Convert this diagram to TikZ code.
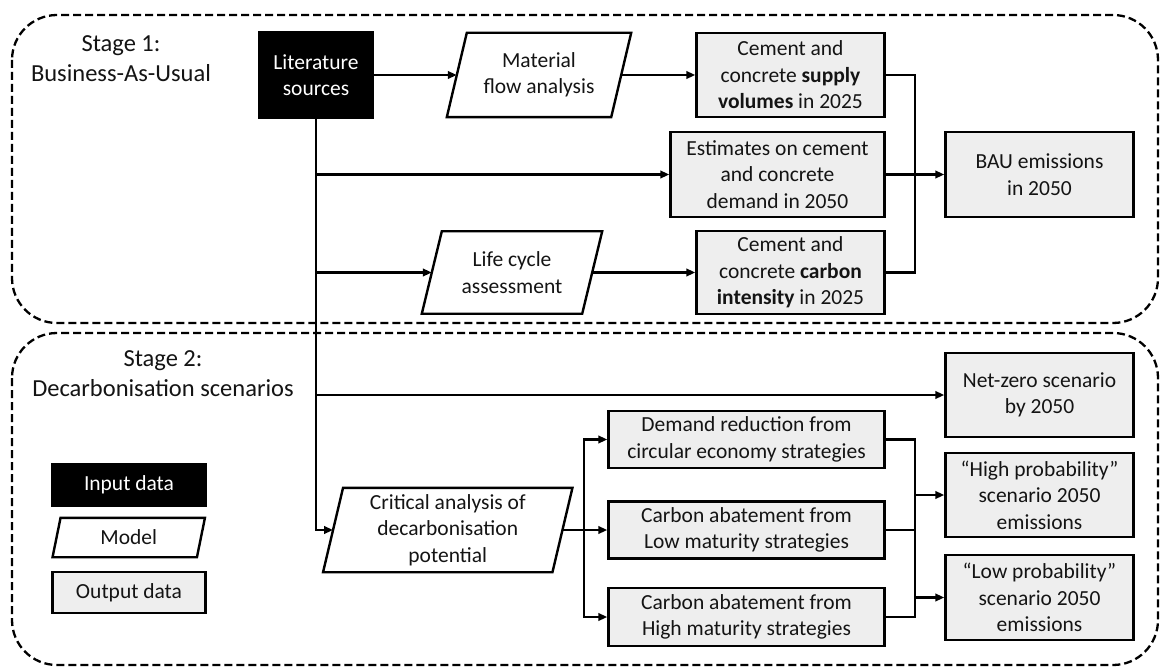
\documentclass[tikz,border=0pt]{standalone}
\usepackage{fontspec}
\setmainfont{Carlito}
\usetikzlibrary{arrows.meta,calc}
\definecolor{outfill}{RGB}{238,238,238}
\definecolor{ink}{RGB}{20,20,20}

\begin{document}
\begin{tikzpicture}[x=1pt,y=-1pt,
  boxline/.style={draw=black,line width=2.4pt},
  base/.style={rectangle, inner sep=0pt, align=center, text=ink,
    font=\fontsize{21.5}{26.5}\selectfont},
  inbox/.style={base, fill=black, text=white, boxline},
  outbox/.style={base, fill=outfill, boxline},
  para/.style={base, append after command={\pgfextra{
    \draw[boxline,line join=miter]
      ([xshift=#1]\tikzlastnode.north west) -- ([xshift=#1]\tikzlastnode.north east)
      -- ([xshift=-#1]\tikzlastnode.south east) -- ([xshift=-#1]\tikzlastnode.south west) -- cycle;}}},
  conn/.style={line width=2.2pt, draw=black},
  arr/.style={conn, -{Triangle[length=9pt,width=7.5pt]}},
  stagebox/.style={draw=black, line width=2.3pt, dash pattern=on 8pt off 4pt, rounded corners=45pt},
  stagelabel/.style={align=center, text=ink, inner sep=0pt,
    font=\fontsize{24.5}{30}\selectfont}
]
\fill[white] (0,0) rectangle (1161,668);
\useasboundingbox (0,0) rectangle (1161,668);

% stage frames
\draw[stagebox] (12,15) rectangle (1158,323);
\draw[stagebox] (12,333) rectangle (1158,665);

\node[stagelabel] (s1) at (121,59) {Stage 1:\\Business-As-Usual};
\node[stagelabel] (s2) at (163,374) {Stage 2:\\Decarbonisation scenarios};

% stage 1 nodes
\node[inbox, minimum width=114pt, minimum height=86pt] (lit) at (316,75) {Literature\\sources};
\node[para=10pt, minimum width=164pt, minimum height=84pt] (mfa) at (539,75) {Material\\flow analysis};
\node[outbox, minimum width=188pt, minimum height=84pt] (supply) at (790.5,75)
  {Cement and\\concrete \textbf{supply}\\\textbf{volumes} in 2025};
\node[outbox, minimum width=214pt, minimum height=85pt] (est) at (777.5,174.5)
  {Estimates on cement\\and concrete\\demand in 2050};
\node[para=10pt, minimum width=160pt, minimum height=82pt] (lca) at (512,272.5) {Life cycle\\assessment};
\node[outbox, minimum width=188pt, minimum height=83pt] (carb) at (790.5,272.5)
  {Cement and\\concrete \textbf{carbon}\\\textbf{intensity} in 2025};
\node[outbox, minimum width=188pt, minimum height=85pt] (bau) at (1039.5,174.5) {BAU emissions\\in 2050};

% stage 2 nodes
\node[outbox, minimum width=188pt, minimum height=84pt] (net) at (1039.5,395) {Net-zero scenario\\by 2050};
\node[para=10pt, minimum width=229pt, minimum height=84pt] (crit) at (447.75,530)
  {Critical analysis of\\decarbonisation\\potential};
\node[outbox, minimum width=276pt, minimum height=57pt] (dem) at (746.5,439.5)
  {Demand reduction from\\circular economy strategies};
\node[outbox, minimum width=276pt, minimum height=57pt] (lowm) at (746.5,530)
  {Carbon abatement from\\Low maturity strategies};
\node[outbox, minimum width=276pt, minimum height=58pt] (highm) at (746.5,617)
  {Carbon abatement from\\High maturity strategies};
\node[outbox, minimum width=188pt, minimum height=84pt] (hp) at (1039.5,495)
  {“High probability”\\scenario 2050\\emissions};
\node[outbox, minimum width=188pt, minimum height=85pt] (lp) at (1039.5,597.5)
  {“Low probability”\\scenario 2050\\emissions};

% legend
\node[inbox, minimum width=153pt, minimum height=42pt] (legin) at (129,485) {Input data};
\node[para=4pt, minimum width=144pt, minimum height=39pt] (legmod) at (128.75,537.5) {Model};
\node[outbox, minimum width=153pt, minimum height=41pt] (legout) at (129,592.5) {Output data};

% junction columns
\coordinate (jb) at (915,0);
\coordinate (jc) at (584,0);

% stage 1 connectors
\draw[arr] (lit) -- (mfa);
\draw[arr] (mfa) -- (supply);
\draw[arr] (lit.south) |- (crit);
\draw[arr] (lit.south |- est) -- (est);
\draw[arr] (lit.south |- lca) -- (lca);
\draw[arr] (lit.south |- net) -- (net);
\draw[arr] (lca) -- (carb);
\draw[conn] (supply.east) -- (supply.east -| jb) |- (carb.east);
\draw[arr] (est) -- (bau);

% stage 2 connectors
\draw[conn] (crit.east) -- (crit.east -| jc);
\draw[arr] (crit.east -| jc) |- (dem.west);
\draw[arr] (crit.east -| jc) |- (highm.west);
\draw[arr] (crit) -- (lowm);
\draw[conn] (dem.east) -- (dem.east -| jb) |- (highm.east);
\draw[conn] (lowm.east) -- (lowm.east -| jb);
\draw[arr] (hp.west -| jb) -- (hp);
\draw[arr] (lp.west -| jb) -- (lp);
\end{tikzpicture}
\end{document}
